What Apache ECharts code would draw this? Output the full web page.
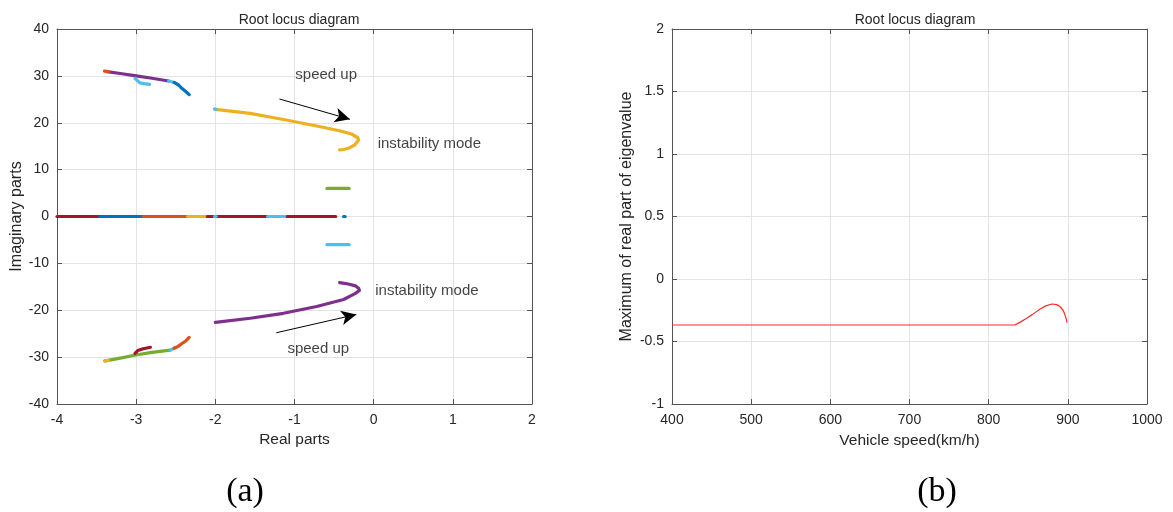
<!DOCTYPE html>
<html>
<head>
<meta charset="utf-8">
<script src="https://cdn.jsdelivr.net/npm/echarts@6/dist/echarts.min.js"></script>
<style>html,body{margin:0;padding:0;background:#fff;}#c{width:1173px;height:512px;}</style>
</head>
<body>
<div id="c"></div>
<script>
// ---------- Data: panel (a) root locus ----------
const xTicksA = [-4, -3, -2, -1, 0, 1, 2];
const yTicksA = [-40, -30, -20, -10, 0, 10, 20, 30, 40];

const topOrangeTip = [[-3.40, 31.0], [-3.35, 30.9]];
const topPurple = [[-3.37, 30.9], [-3.2, 30.5], [-3.0, 30.0], [-2.8, 29.5], [-2.59, 28.9]];
const topGreenBit = [[-2.59, 28.9], [-2.52, 28.6]];
const topBlue = [[-2.52, 28.6], [-2.46, 28.0], [-2.42, 27.3], [-2.37, 26.6], [-2.33, 26.0]];
const topLightBlueHook = [[-3.015, 29.5], [-2.98, 28.9], [-2.95, 28.5], [-2.9, 28.35], [-2.83, 28.2]];

const upperYellow = [[-2.0, 22.87], [-1.56, 22.0], [-1.14, 20.7], [-0.72, 19.3], [-0.43, 18.3],
  [-0.28, 17.6], [-0.2, 16.8], [-0.19, 16.3], [-0.24, 15.25], [-0.32, 14.55], [-0.38, 14.3], [-0.43, 14.2]];
const upperYellowStartDot = [[-2.01, 22.9], [-1.99, 22.87]];

const lowerPurple = [[-2.0, -22.6], [-1.56, -21.7], [-1.14, -20.65], [-0.72, -19.2], [-0.38, -17.7],
  [-0.23, -16.4], [-0.18, -15.8], [-0.19, -15.3], [-0.23, -14.8], [-0.32, -14.4], [-0.43, -14.1]];

const bottomYellowTip = [[-3.40, -30.8], [-3.35, -30.7]];
const bottomGreen = [[-3.39, -30.8], [-3.2, -30.2], [-2.99, -29.5], [-2.8, -29.0], [-2.57, -28.5]];
const bottomBlueBit = [[-2.57, -28.5], [-2.52, -28.1]];
const bottomOrange = [[-2.52, -28.1], [-2.47, -27.7], [-2.43, -27.2], [-2.37, -26.5], [-2.33, -25.8]];
const bottomDarkRedHook = [[-3.015, -29.2], [-2.98, -28.6], [-2.93, -28.3], [-2.88, -28.1], [-2.82, -27.9]];

const greenPlusSix = [[-0.59, 6.0], [-0.31, 6.0]];
const lightBlueMinusSix = [[-0.59, -6.0], [-0.31, -6.0]];

const realDarkRed1 = [[-4.0, 0], [-3.46, 0]];
const realBlue1 = [[-3.46, 0], [-2.91, 0]];
const realOrange = [[-2.91, 0], [-2.35, 0]];
const realYellow = [[-2.35, 0], [-2.10, 0]];
const realDarkRed2 = [[-2.10, 0], [-1.34, 0]];
const realLightBlueDot = [[-2.01, 0], [-1.99, 0]];
const realLightBlue = [[-1.34, 0], [-1.09, 0]];
const realDarkRed3 = [[-1.09, 0], [-0.48, 0]];
const realBlueDot = [[-0.38, 0], [-0.36, 0]];

// ---------- Data: panel (b) max real part vs speed ----------
const xTicksB = [400, 500, 600, 700, 800, 900, 1000];
const yTicksB = [-1, -0.5, 0, 0.5, 1, 1.5, 2];
const speeds = [400, 500, 600, 700, 800, 833, 840, 848, 855, 865, 872, 880, 886, 890, 894, 896, 898, 899];
const maxReal = [-0.368, -0.368, -0.368, -0.368, -0.368, -0.368, -0.345, -0.314, -0.285, -0.24, -0.215, -0.2, -0.205, -0.22, -0.25, -0.28, -0.32, -0.35];

// MATLAB default colour order
const C = {blue:'#0072BD', orange:'#D95319', yellow:'#EDB120', purple:'#7E2F8E', green:'#77AC30', lblue:'#4DBEEE', dred:'#A2142F'};

const segmentsA = [
  [realDarkRed1, C.dred], [realBlue1, C.blue], [realOrange, C.orange], [realYellow, C.yellow],
  [realDarkRed2, C.dred], [realLightBlueDot, C.lblue], [realLightBlue, C.lblue], [realDarkRed3, C.dred], [realBlueDot, C.blue],
  [greenPlusSix, C.green], [lightBlueMinusSix, C.lblue],
  [topPurple, C.purple], [topOrangeTip, C.orange], [topGreenBit, C.lblue], [topBlue, C.blue], [topLightBlueHook, C.lblue],
  [upperYellow, C.yellow], [upperYellowStartDot, C.lblue],
  [lowerPurple, C.purple],
  [bottomGreen, C.green], [bottomYellowTip, C.yellow], [bottomBlueBit, C.lblue], [bottomOrange, C.orange], [bottomDarkRedHook, C.dred]
];

const txt = '#262626';
const font = 'Liberation Sans, Arial, Helvetica, sans-serif';

function mkAxes(xmin, xmax, xint, ymin, ymax, yint, xname, yname, xnameGap, ynameGap) {
  const common = {
    type: 'value',
    axisLine: {show: true, onZero: false, lineStyle: {color: '#555', width: 1}},
    axisTick: {show: true, inside: true, length: 5, lineStyle: {color: '#555'}},
    splitLine: {show: true, lineStyle: {color: '#e3e3e3', width: 1}},
    axisLabel: {color: txt, fontSize: 14, fontFamily: font, formatter: v => String(v)},
  };
  const xs = [
    Object.assign({}, common, {min: xmin, max: xmax, interval: xint, position: 'bottom',
      name: xname, nameLocation: 'middle', nameGap: xnameGap,
      nameTextStyle: {color: txt, fontSize: 15.5, fontFamily: font},
      axisLabel: Object.assign({}, common.axisLabel, {margin: 9})}),
    Object.assign({}, common, {min: xmin, max: xmax, interval: xint, position: 'top',
      axisLabel: {show: false}, splitLine: {show: false}})
  ];
  const ys = [
    Object.assign({}, common, {min: ymin, max: ymax, interval: yint, position: 'left',
      name: yname, nameLocation: 'middle', nameGap: ynameGap, nameRotate: 90,
      nameTextStyle: {color: txt, fontSize: 16, fontFamily: font},
      axisLabel: Object.assign({}, common.axisLabel, {margin: 8})}),
    Object.assign({}, common, {min: ymin, max: ymax, interval: yint, position: 'right',
      axisLabel: {show: false}, splitLine: {show: false}})
  ];
  return {xs, ys};
}

const a = mkAxes(-4, 2, 1, -40, 40, 10, 'Real parts', 'Imaginary parts', 26, 32);
const b = mkAxes(400, 1000, 100, -1, 2, 0.5, 'Vehicle speed(km/h)', 'Maximum of real part of eigenvalue', 29, 37);

const series = [];
segmentsA.forEach(([d, col]) => {
  series.push({type: 'line', xAxisIndex: 0, yAxisIndex: 0, data: d, showSymbol: false, silent: true,
    lineStyle: {color: col, width: 3.2, cap: 'round', join: 'round'}, animation: false});
});

// Annotations in panel (a)
series.push({
  type: 'scatter', xAxisIndex: 0, yAxisIndex: 0, symbolSize: 0, animation: false, silent: true,
  data: [
    {value: [-0.60, 30.2], label: {show: true, formatter: 'speed up', position: 'inside'}},
    {value: [0.05, 15.5], label: {show: true, formatter: 'instability mode', position: 'right', distance: 0}},
    {value: [0.02, -15.9], label: {show: true, formatter: 'instability mode', position: 'right', distance: 0}},
    {value: [-0.70, -28.3], label: {show: true, formatter: 'speed up', position: 'inside'}}
  ],
  label: {color: '#111', fontSize: 15, fontFamily: font},
  markLine: {
    silent: true, animation: false,
    symbol: ['none', 'arrow'], symbolSize: [11, 15],
    lineStyle: {color: '#000', width: 1, type: 'solid'},
    label: {show: false},
    data: [
      [{coord: [-1.19, 25.07]}, {coord: [-0.30, 20.74]}],
      [{coord: [-1.23, -24.8]}, {coord: [-0.22, -20.9]}]
    ]
  }
});

series.push({type: 'line', xAxisIndex: 2, yAxisIndex: 2, data: speeds.map((s, i) => [s, maxReal[i]]),
  showSymbol: false, silent: true, animation: false, lineStyle: {color: '#ff2a2a', width: 1.2}});

const chart = echarts.init(document.getElementById('c'), null, {renderer: 'canvas'});
chart.setOption({
  backgroundColor: '#fff',
  animation: false,
  title: [
    {text: 'Root locus diagram', left: 294, top: 8, textAlign: 'center',
      textStyle: {color: txt, fontSize: 14, fontWeight: 'normal', fontFamily: font}},
    {text: 'Root locus diagram', left: 910, top: 8, textAlign: 'center',
      textStyle: {color: txt, fontSize: 14, fontWeight: 'normal', fontFamily: font}}
  ],
  grid: [
    {left: 57, top: 29, width: 475, height: 375, containLabel: false},
    {left: 672, top: 29, width: 475, height: 375, containLabel: false}
  ],
  xAxis: [a.xs[0], a.xs[1], b.xs[0], b.xs[1]].map((ax, i) => Object.assign(ax, {gridIndex: i < 2 ? 0 : 1})),
  yAxis: [a.ys[0], a.ys[1], b.ys[0], b.ys[1]].map((ax, i) => Object.assign(ax, {gridIndex: i < 2 ? 0 : 1})),
  graphic: [
    {type: 'text', x: 245, y: 492, style: {text: '(a)', fontSize: 34, fontFamily: 'Liberation Serif, Times New Roman, serif', fill: '#000', align: 'center', verticalAlign: 'middle'}},
    {type: 'text', x: 937, y: 492, style: {text: '(b)', fontSize: 34, fontFamily: 'Liberation Serif, Times New Roman, serif', fill: '#000', align: 'center', verticalAlign: 'middle'}}
  ],
  series: series
});
</script>
</body>
</html>
